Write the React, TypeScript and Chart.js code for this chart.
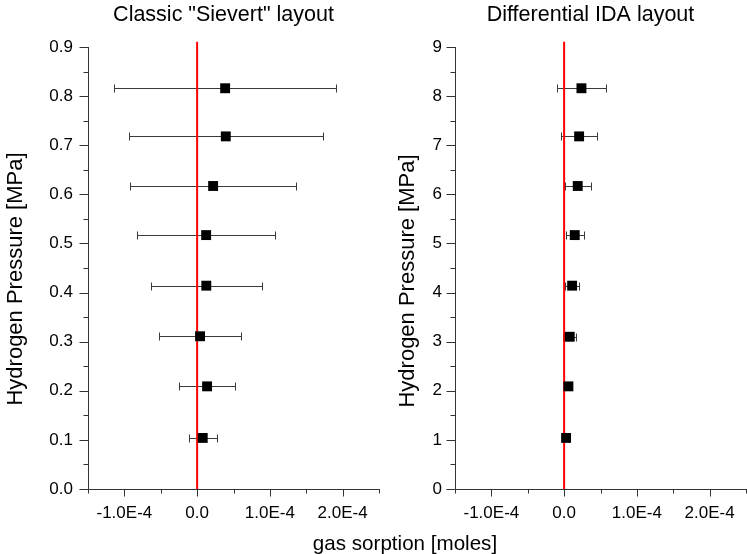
import React, { useEffect, useRef } from 'react';
import { Chart, registerables } from 'chart.js';

Chart.register(...registerables);

const FONT = "'Liberation Sans', Arial, Helvetica, sans-serif";
const AXIS_COLOR = '#333333';

// Left panel: classic "Sievert" layout (pressure in MPa, sorption in moles)
const sievertPressure = [0.816, 0.718, 0.617, 0.517, 0.414, 0.311, 0.209, 0.104];
const sievertSorption = [0.385e-4, 0.394e-4, 0.22e-4, 0.124e-4, 0.126e-4, 0.04e-4, 0.137e-4, 0.077e-4];
const sievertError = [1.522e-4, 1.334e-4, 1.142e-4, 0.949e-4, 0.759e-4, 0.568e-4, 0.38e-4, 0.19e-4];

// Right panel: differential IDA layout
const idaPressure = [8.16, 7.18, 6.17, 5.17, 4.14, 3.1, 2.09, 1.04];
const idaSorption = [0.238e-4, 0.206e-4, 0.187e-4, 0.146e-4, 0.11e-4, 0.077e-4, 0.059e-4, 0.027e-4];
const idaError = [0.334e-4, 0.243e-4, 0.18e-4, 0.124e-4, 0.094e-4, 0.09e-4, 0.03e-4, 0.03e-4];

// Axis ticks
const xMajorTicks = [-1e-4, 0, 1e-4, 2e-4];
const xMinorTicks = [-1.5e-4, -0.5e-4, 0.5e-4, 1.5e-4, 2.5e-4];
const sievertYMajor = [0, 0.1, 0.2, 0.3, 0.4, 0.5, 0.6, 0.7, 0.8, 0.9];
const sievertYMinor = [0.05, 0.15, 0.25, 0.35, 0.45, 0.55, 0.65, 0.75, 0.85];
const idaYMajor = [0, 1, 2, 3, 4, 5, 6, 7, 8, 9];
const idaYMinor = [0.5, 1.5, 2.5, 3.5, 4.5, 5.5, 6.5, 7.5, 8.5];

const X_MIN = -1.5e-4;
const X_MAX = 2.5e-4;
const Y_TITLE = 'Hydrogen Pressure [MPa]';
const X_TITLE = 'gas sorption [moles]';

function fmtX(v: number | string) {
  const n = Number(v) * 1e4;
  const r = Math.round(n);
  if (Math.abs(n - r) > 1e-6) return '';
  if (r === 0) return '0.0';
  return r.toFixed(1) + 'E-4';
}

type PanelProps = {
  title: string;
  pressure: number[];
  sorption: number[];
  error: number[];
  yMax: number;
  yStep: number;
  yDecimals: number;
  yMajor: number[];
  yMinor: number[];
  left: number;
  width: number;
  yAxisWidth: number;
  yTitleX: number;
  yTitleY: number;
  yLabelPad: number;
};

function Panel(p: PanelProps) {
  const ref = useRef<HTMLCanvasElement>(null);

  useEffect(() => {
    const canvas = ref.current;
    if (!canvas) return;

    const decor = {
      id: 'decor',
      beforeDatasetsDraw(chart: any) {
        const { ctx } = chart;
        const xs = chart.scales.x;
        const ys = chart.scales.y;
        ctx.save();
        ctx.strokeStyle = '#3a3a3a';
        ctx.lineWidth = 1;
        for (let i = 0; i < p.pressure.length; i++) {
          const py = Math.round(ys.getPixelForValue(p.pressure[i])) + 0.5;
          const x1 = Math.round(xs.getPixelForValue(p.sorption[i] - p.error[i])) + 0.5;
          const x2 = Math.round(xs.getPixelForValue(p.sorption[i] + p.error[i])) + 0.5;
          ctx.beginPath();
          ctx.moveTo(x1, py);
          ctx.lineTo(x2, py);
          ctx.moveTo(x1, py - 4);
          ctx.lineTo(x1, py + 4);
          ctx.moveTo(x2, py - 4);
          ctx.lineTo(x2, py + 4);
          ctx.stroke();
        }
        ctx.restore();
      },
      afterDraw(chart: any) {
        const { ctx, chartArea } = chart;
        const xs = chart.scales.x;
        const ys = chart.scales.y;
        const ax = Math.round(chartArea.left) + 0.5;
        const ay = Math.round(chartArea.bottom) + 0.5;
        ctx.save();
        ctx.strokeStyle = AXIS_COLOR;
        ctx.lineWidth = 1;
        ctx.beginPath();
        ctx.moveTo(ax, Math.round(chartArea.top));
        ctx.lineTo(ax, ay);
        ctx.lineTo(Math.round(chartArea.right) + 1, ay);
        for (const v of p.yMajor) {
          const y = Math.round(ys.getPixelForValue(v)) + 0.5;
          ctx.moveTo(ax - 9, y);
          ctx.lineTo(ax, y);
        }
        for (const v of p.yMinor) {
          const y = Math.round(ys.getPixelForValue(v)) + 0.5;
          ctx.moveTo(ax - 5, y);
          ctx.lineTo(ax, y);
        }
        for (const v of xMajorTicks) {
          const x = Math.round(xs.getPixelForValue(v)) + 0.5;
          ctx.moveTo(x, ay);
          ctx.lineTo(x, ay + 7);
        }
        for (const v of xMinorTicks) {
          const x = Math.round(xs.getPixelForValue(v)) + 0.5;
          ctx.moveTo(x, ay);
          ctx.lineTo(x, ay + 4);
        }
        ctx.stroke();

        ctx.fillStyle = '#000';
        ctx.textAlign = 'center';
        ctx.textBaseline = 'middle';
        ctx.font = `21.5px ${FONT}`;
        ctx.fillText(p.title, (chartArea.left + chartArea.right) / 2 - 10, 15);

        ctx.font = `22px ${FONT}`;
        ctx.translate(p.yTitleX, p.yTitleY);
        ctx.rotate(-Math.PI / 2);
        ctx.fillText(Y_TITLE, 0, 0);
        ctx.restore();
      },
    };

    const chart = new Chart(canvas, {
      type: 'scatter',
      data: {
        datasets: [
          {
            type: 'scatter',
            label: 'gas sorption',
            data: p.sorption.map((v, i) => ({ x: v, y: p.pressure[i] })),
            pointStyle: 'rect',
            pointRadius: 7,
            pointHoverRadius: 7,
            backgroundColor: '#000',
            borderColor: '#000',
            borderWidth: 0,
            order: 0,
          },
          {
            type: 'line',
            label: 'zero',
            data: [
              { x: 0, y: 0 },
              { x: 0, y: p.yMax * 1.012 },
            ],
            borderColor: '#ff0000',
            borderWidth: 2,
            pointRadius: 0,
            clip: false,
            order: 1,
          } as any,
        ],
      },
      options: {
        animation: false,
        responsive: false,
        devicePixelRatio: 1,
        events: [],
        layout: { padding: { top: 47, right: 0, bottom: 0, left: 0 } },
        plugins: {
          legend: { display: false },
          tooltip: { enabled: false },
          title: { display: false },
        },
        scales: {
          x: {
            type: 'linear',
            min: X_MIN,
            max: X_MAX,
            grid: { display: false, drawTicks: false },
            border: { display: false },
            ticks: {
              stepSize: 0.5e-4,
              autoSkip: false,
              maxRotation: 0,
              padding: 14,
              color: '#000',
              font: { family: FONT, size: 17 },
              callback: (v: any) => fmtX(v),
            },
            afterFit: (s: any) => {
              s.height = 65;
            },
          },
          y: {
            type: 'linear',
            min: 0,
            max: p.yMax,
            grid: { display: false, drawTicks: false },
            border: { display: false },
            ticks: {
              stepSize: p.yStep,
              autoSkip: false,
              padding: p.yLabelPad,
              color: '#000',
              font: { family: FONT, size: 17 },
              callback: (v: any) => Number(v).toFixed(p.yDecimals),
            },
            afterFit: (s: any) => {
              s.width = p.yAxisWidth;
            },
          },
        },
      } as any,
      plugins: [decor],
    });

    return () => chart.destroy();
  }, []);

  return (
    <canvas
      ref={ref}
      width={p.width}
      height={554}
      style={{ position: 'absolute', left: p.left, top: 0, width: p.width, height: 554 }}
    />
  );
}

export default function App() {
  return (
    <div
      style={{
        position: 'absolute',
        left: 0,
        top: 0,
        width: 747,
        height: 554,
        overflow: 'hidden',
        background: '#fff',
      }}
    >
      <Panel
        title={'Classic "Sievert" layout'}
        pressure={sievertPressure}
        sorption={sievertSorption}
        error={sievertError}
        yMax={0.9}
        yStep={0.1}
        yDecimals={1}
        yMajor={sievertYMajor}
        yMinor={sievertYMinor}
        left={0}
        width={393}
        yAxisWidth={88}
        yTitleX={16}
        yTitleY={279}
        yLabelPad={15}
      />
      <Panel
        title="Differential IDA layout"
        pressure={idaPressure}
        sorption={idaSorption}
        error={idaError}
        yMax={9}
        yStep={1}
        yDecimals={0}
        yMajor={idaYMajor}
        yMinor={idaYMinor}
        left={380}
        width={380}
        yAxisWidth={75}
        yTitleX={28}
        yTitleY={281}
        yLabelPad={13}
      />
      <div
        style={{
          position: 'absolute',
          left: 255,
          top: 531,
          width: 300,
          textAlign: 'center',
          font: `20.6px ${FONT}`,
          lineHeight: '24px',
          color: '#000',
          whiteSpace: 'nowrap',
        }}
      >
        {X_TITLE}
      </div>
    </div>
  );
}
